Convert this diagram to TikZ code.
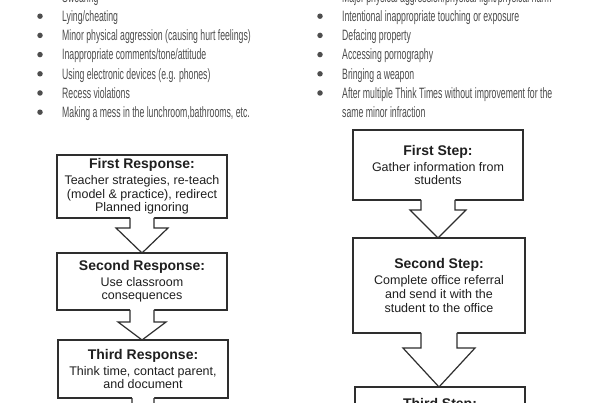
\documentclass[tikz,border=0pt]{standalone}
\usepackage{fontspec}
\setmainfont{Liberation Sans}
\newfontfamily\condfont[FakeStretch=0.58]{Liberation Sans}
\usetikzlibrary{calc}
\definecolor{bulletgray}{HTML}{4D4D4D}
\definecolor{linegray}{HTML}{2E2E2E}
\tikzset{
  box/.style={draw=linegray, line width=1.2pt, fill=white, align=center,
    minimum width=170pt, inner sep=0pt, outer sep=0pt, text=black!88,
    font=\fontsize{12.5}{13.7}\selectfont},
  item/.style={anchor=base west, inner sep=0pt, font=\condfont\fontsize{15}{17}\selectfont, text=bulletgray},
  dotmark/.style={circle, fill=bulletgray, minimum size=5.5pt, inner sep=0pt},
  arrline/.style={draw=linegray, line width=1.2pt, line join=miter},
}
\newcommand{\hd}[1]{{\fontsize{14}{16}\selectfont\bfseries #1}}
% #1 from, #2 to, #3 shaft half width, #4 head half width, #5 shaft length
\newcommand{\blockarr}[5]{%
  \fill[white] ($(#1.south)+(-#3,-1.2)$) -- ($(#1.south)+(-#3,#5)$) -- ($(#1.south)+(-#4,#5)$)
    -- (#1.south |- #2.north) -- ($(#1.south)+(#4,#5)$) -- ($(#1.south)+(#3,#5)$)
    -- ($(#1.south)+(#3,-1.2)$) -- cycle;
  \draw[arrline] ($(#1.south)+(-#3,0)$) -- ($(#1.south)+(-#3,#5)$) -- ($(#1.south)+(-#4,#5)$)
    -- (#1.south |- #2.north) -- ($(#1.south)+(#4,#5)$) -- ($(#1.south)+(#3,#5)$)
    -- ($(#1.south)+(#3,0)$);
}
\begin{document}
\begin{tikzpicture}[x=1pt,y=-1pt]
\useasboundingbox (0,0) rectangle (600,403);
\clip (0,0) rectangle (600,403);
\fill[white] (0,0) rectangle (600,403);

% left list
\foreach \t [count=\i] in {Swearing, Lying/cheating, Minor physical aggression (causing hurt feelings),
  Inappropriate comments/tone/attitude, Using electronic devices (e.g. phones), Recess violations,
  {Making a mess in the lunchroom,bathrooms, etc.}} {
  \pgfmathsetmacro{\yy}{-3+19.2*(\i-1)}
  \node[dotmark] (ld\i) at (40,\yy) {};
  \node[item] (lt\i) at (62,\yy+5.4) {\t};
}
% right list
\foreach \t [count=\i] in {Major physical aggression/physical fight/physical harm,
  Intentional inappropriate touching or exposure, Defacing property, Accessing pornography,
  Bringing a weapon, After multiple Think Times without improvement for the} {
  \pgfmathsetmacro{\yy}{-3+19.2*(\i-1)}
  \node[dotmark] (rd\i) at (320,\yy) {};
  \node[item] (rt\i) at (342,\yy+5.4) {\t};
}
\node[item] (rt7) at (342,117.4) {same minor infraction};

% left flow
\node[box, minimum height=63pt] (b1) at (142,186.5)
  {\hd{First Response:}\\[2pt] Teacher strategies, re-teach\\ (model \& practice), redirect\\ Planned ignoring};
\node[box, minimum height=57pt] (b2) at (142,281.5)
  {\hd{Second Response:}\\[2pt] Use classroom\\ consequences};
\node[box, minimum height=58pt] (b3) at (143,369)
  {\hd{Third Response:}\\[2pt] Think time, contact parent,\\ and document};
\coordinate (lend) at (143,440);

% right flow
\node[box, minimum height=70pt] (r1) at (438,165)
  {\hd{First Step:}\\[2pt] Gather information from\\ students};
\node[box, minimum width=172pt, minimum height=95pt] (r2) at (439,285.5)
  {\hd{Second Step:}\\[2pt] Complete office referral\\ and send it with the\\ student to the office};
\node[box, anchor=north, inner ysep=12pt, text height=10pt, text depth=40pt] (r3) at (440,387)
  {\hd{Third Step:}};

\blockarr{b1}{b2}{12}{26}{10}
\blockarr{b2}{b3}{12}{24}{12}
\blockarr{b3}{lend}{11}{26}{14}
\blockarr{r1}{r2}{17}{28}{10}
\blockarr{r2}{r3}{18}{36}{15}
\end{tikzpicture}
\end{document}
